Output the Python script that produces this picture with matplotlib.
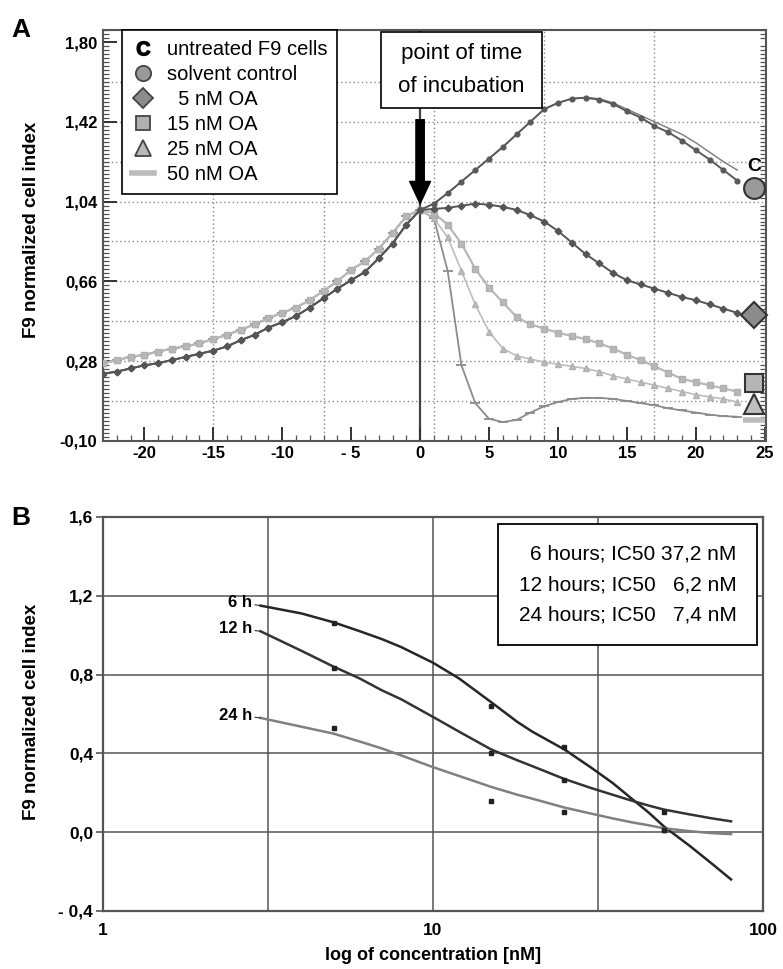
import matplotlib
matplotlib.use("Agg")
import matplotlib.pyplot as plt
from matplotlib.lines import Line2D
import numpy as np

plt.rcParams['font.family'] = ['Liberation Sans', 'DejaVu Sans']
plt.rcParams['mathtext.fontset'] = 'custom'
plt.rcParams['mathtext.rm'] = 'Liberation Sans'
plt.rcParams['mathtext.bf'] = 'Liberation Sans:bold'

# ---------------- panel A data: time (h) vs normalized cell index
hours_pre = np.arange(-23, 0)
hours_post = np.arange(0, 24)

pre_dark = [0.22, 0.23, 0.245, 0.26, 0.27, 0.285, 0.30, 0.315, 0.33, 0.35, 0.38, 0.405,
            0.44, 0.465, 0.495, 0.535, 0.58, 0.625, 0.665, 0.705, 0.77, 0.84, 0.93]
pre_light = [0.27, 0.285, 0.30, 0.31, 0.325, 0.34, 0.35, 0.365, 0.385, 0.405, 0.43, 0.455,
             0.485, 0.51, 0.535, 0.57, 0.615, 0.66, 0.715, 0.755, 0.815, 0.89, 0.97]

solvent_post = [1.00, 1.03, 1.08, 1.135, 1.19, 1.245, 1.30, 1.36, 1.42, 1.48, 1.51, 1.53,
                1.535, 1.525, 1.505, 1.47, 1.44, 1.40, 1.37, 1.33, 1.285, 1.24, 1.19, 1.14]
untreated_post = [1.00, 1.03, 1.08, 1.135, 1.19, 1.245, 1.30, 1.36, 1.42, 1.48, 1.51, 1.53,
                  1.535, 1.53, 1.51, 1.48, 1.45, 1.42, 1.39, 1.36, 1.32, 1.275, 1.23, 1.19]
oa5_post = [1.00, 1.005, 1.01, 1.02, 1.03, 1.025, 1.015, 1.00, 0.975, 0.945, 0.90, 0.845,
            0.79, 0.745, 0.70, 0.665, 0.645, 0.625, 0.605, 0.585, 0.57, 0.55, 0.53, 0.51]
oa15_post = [1.00, 0.985, 0.93, 0.84, 0.72, 0.63, 0.56, 0.49, 0.455, 0.435, 0.415, 0.40,
             0.385, 0.365, 0.34, 0.31, 0.285, 0.255, 0.225, 0.195, 0.18, 0.165, 0.15, 0.135]
oa25_post = [1.00, 0.96, 0.87, 0.71, 0.55, 0.42, 0.34, 0.305, 0.29, 0.275, 0.265, 0.255,
             0.245, 0.23, 0.21, 0.195, 0.18, 0.165, 0.15, 0.135, 0.12, 0.11, 0.10, 0.085]
oa50_post = [1.00, 0.96, 0.71, 0.26, 0.08, 0.005, -0.01, 0.0, 0.035, 0.065, 0.085, 0.10,
             0.105, 0.105, 0.10, 0.09, 0.08, 0.07, 0.055, 0.045, 0.035, 0.025, 0.018, 0.015]

a_labels = ['untreated F9 cells', 'solvent control', '  5 nM OA', '15 nM OA', '25 nM OA', '50 nM OA']
a_yticks = [-0.10, 0.28, 0.66, 1.04, 1.42, 1.80]
a_yticklabels = ['-0,10', '0,28', '0,66', '1,04', '1,42', '1,80']
a_xticks = [-20, -15, -10, -5, 0, 5, 10, 15, 20, 25]
a_xticklabels = ['-20', '-15', '-10', '- 5', '0', '5', '10', '15', '20', '25']

# ---------------- panel B data: concentration (nM) vs cell index
conc_fit = [3, 4, 5, 6, 7, 8, 10, 12, 15, 18, 20, 25, 30, 35, 40, 45, 50, 60, 70, 80]
fit_6h = [1.15, 1.11, 1.065, 1.02, 0.98, 0.94, 0.86, 0.78, 0.66, 0.56, 0.51, 0.42,
          0.33, 0.25, 0.17, 0.10, 0.03, -0.07, -0.16, -0.24]
fit_12h = [1.02, 0.92, 0.84, 0.78, 0.72, 0.675, 0.585, 0.51, 0.42, 0.365, 0.335, 0.27,
           0.225, 0.19, 0.16, 0.135, 0.115, 0.09, 0.07, 0.055]
fit_24h = [0.58, 0.535, 0.50, 0.46, 0.425, 0.39, 0.33, 0.285, 0.23, 0.19, 0.17, 0.125,
           0.095, 0.07, 0.05, 0.035, 0.02, 0.005, -0.005, -0.01]
conc_pts = [5, 15, 25, 50]
pts_6h = [1.06, 0.64, 0.43, 0.01]
pts_12h = [0.835, 0.40, 0.265, 0.10]
pts_24h = [0.53, 0.16, 0.10, 0.01]
b_names = ['6 h', '12 h', '24 h']
b_legend = ['6 hours; IC50 37,2 nM', '12 hours; IC50   6,2 nM', '24 hours; IC50   7,4 nM']
b_yticks = [-0.4, 0.0, 0.4, 0.8, 1.2, 1.6]
b_yticklabels = ['- 0,4', '0,0', '0,4', '0,8', '1,2', '1,6']

narrow = ['Liberation Sans Narrow', 'Liberation Sans']

fig = plt.figure(figsize=(7.83, 9.69), dpi=100)

# ================= panel A
ax = fig.add_axes([0.1315, 0.545, 0.847, 0.424])
ax.set_xlim(-23, 25.1)
ax.set_ylim(-0.10, 1.855)

for gx in [-15, -7, 1, 9, 17]:
    ax.axvline(gx, color='#8a8a8a', lw=1.0, ls=(0, (1, 2)), zorder=0)
for k in range(1, 10):
    ax.axhline(-0.10 + 0.19 * k, color='#8a8a8a', lw=1.0, ls=(0, (1, 2)), zorder=0)

ax.axvline(0, color='#444444', lw=1.6, zorder=1)

t_all = np.concatenate([hours_pre, hours_post])
oa50 = pre_light + oa50_post
oa25 = pre_light + oa25_post
oa15 = pre_light + oa15_post
oa5 = pre_dark + oa5_post
solvent = pre_dark + solvent_post
untreated = pre_dark + untreated_post

ax.plot(t_all, oa50, color='#8c8c8c', lw=1.3, marker='_', ms=7, mew=1.3, zorder=3)
ax.plot(t_all, oa25, color='#bdbdbd', lw=1.2, marker='^', ms=4, mec='#b0b0b0', zorder=3)
ax.plot(t_all, oa15, color='#b8b8b8', lw=1.6, marker='s', ms=4.5, mec='#b0b0b0', zorder=4)
ax.plot(t_all, untreated, color='#7a7a7a', lw=1.0, zorder=5)
ax.plot(t_all, solvent, color='#5a5a5a', lw=1.4, marker='o', ms=3.4, zorder=6)
ax.plot(t_all, oa5, color='#555555', lw=1.4, marker='D', ms=3.4, zorder=6)

# end-of-curve symbols
end_x = hours_post[-1] + 1.2
end_specs = [
    (solvent_post, -0.035, dict(marker='o', ms=15, mfc='#9a9a9a', mec='#333333')),
    (oa5_post, -0.01, dict(marker='D', ms=13, mfc='#8c8c8c', mec='#333333')),
    (oa15_post, 0.04, dict(marker='s', ms=13, mfc='#b5b5b5', mec='#333333')),
    (oa25_post, -0.01, dict(marker='^', ms=15, mfc='#bfbfbf', mec='#333333')),
    (oa50_post, -0.015, dict(marker='_', ms=16, mew=4, color='#bdbdbd')),
]
for series, off, st in end_specs:
    ax.plot([end_x], [series[-1] + off], ls='none', clip_on=False, zorder=8, mew=st.pop('mew', 1.5), **st)
ax.text(end_x, solvent_post[-1] + 0.065, 'C', ha='center', va='center', fontsize=14,
        fontweight='bold', zorder=8)

ax.set_xticks(a_xticks)
ax.set_xticklabels(a_xticklabels, fontsize=12, fontweight='bold')
ax.set_xticks(np.arange(-22, 26, 1), minor=True)
ax.set_yticks(a_yticks)
ax.set_yticklabels(a_yticklabels, fontsize=12, fontweight='bold')
ax.set_yticks(np.arange(-0.10, 1.86, 0.019), minor=True)
ax.tick_params(axis='both', which='major', direction='in', length=10, width=1.4, color='#333333', pad=4)
ax.tick_params(axis='both', which='minor', direction='in', length=4, width=0.9, color='#555555')
ax.tick_params(axis='y', which='minor', right=True)
for sp in ax.spines.values():
    sp.set_color('#555555')
    sp.set_linewidth(1.5)

handles = [
    Line2D([], [], ls='none', marker='$\\mathbf{C}$', color='black', ms=10),
    Line2D([], [], ls='none', marker='o', ms=11, mfc='#999999', mec='#444444', mew=1.3),
    Line2D([], [], ls='none', marker='D', ms=10, mfc='#8c8c8c', mec='#444444', mew=1.3),
    Line2D([], [], ls='none', marker='s', ms=10, mfc='#b0b0b0', mec='#444444', mew=1.3),
    Line2D([], [], ls='none', marker='^', ms=12, mfc='#b8b8b8', mec='#444444', mew=1.3),
    Line2D([], [], color='#bbbbbb', lw=4),
]
leg = ax.legend(handles, a_labels, loc='upper left', bbox_to_anchor=(0.029, 1.0), fontsize=14.5,
                frameon=True, fancybox=False, framealpha=1, edgecolor='black', borderaxespad=0,
                labelspacing=0.3, handlelength=1.1, handletextpad=0.6, borderpad=0.5)
leg.get_frame().set_linewidth(1.2)
leg.set_zorder(10)

ax.text(3.0, 1.793, ' point of time \n of incubation ', ha='center', va='top', fontsize=16,
        linespacing=1.7, zorder=11,
        bbox=dict(boxstyle='square,pad=0.5', fc='white', ec='black', lw=1.2))
ax.annotate('', xy=(0, 1.03), xytext=(0, 1.43),
            arrowprops=dict(width=6, headwidth=15, headlength=16, color='black', shrink=0),
            zorder=12)

fig.text(0.04, 0.763, 'F9 normalized cell index', rotation=90, ha='center', va='center',
         fontsize=13.5, fontweight='bold')
fig.text(0.014, 0.969, 'A', fontsize=19, fontweight='bold', va='center')

# ================= panel B
bx = fig.add_axes([0.1315, 0.0599, 0.843, 0.4066])
bx.set_xscale('log')
bx.set_xlim(1, 100)
bx.set_ylim(-0.4, 1.6)
for gy in [0.0, 0.4, 0.8, 1.2]:
    bx.axhline(gy, color='#555555', lw=1.1, zorder=0)
for gx in [10 ** 0.5, 10, 10 ** 1.5]:
    bx.axvline(gx, color='#555555', lw=1.1, zorder=0)

b_colors = ['#262626', '#333333', '#808080']
for fit, pts, name, col in zip([fit_6h, fit_12h, fit_24h], [pts_6h, pts_12h, pts_24h], b_names, b_colors):
    bx.plot(conc_fit, fit, color=col, lw=1.8, zorder=3)
    bx.plot(conc_pts, pts, ls='none', marker='s', ms=3.5, color='#222222', zorder=4)
    bx.annotate(name, xy=(conc_fit[0], fit[0]), xytext=(-6, 2), textcoords='offset points',
                ha='right', va='center', fontsize=12, fontweight='bold', family=narrow,
                arrowprops=dict(arrowstyle='-', lw=0.8, color='#333333', shrinkA=0, shrinkB=0))

bx.set_xticks([1, 10, 100])
bx.set_xticklabels(['1', '10', '100'], fontsize=12.5, fontweight='bold', family=narrow)
bx.xaxis.set_minor_locator(matplotlib.ticker.NullLocator())
bx.set_yticks(b_yticks)
bx.set_yticklabels(b_yticklabels, fontsize=12.5, fontweight='bold', family=narrow)
bx.tick_params(axis='y', direction='out', length=5, width=1.2, color='#555555', pad=2)
bx.tick_params(axis='x', direction='out', length=0, pad=9)
for sp in bx.spines.values():
    sp.set_color('#555555')
    sp.set_linewidth(1.6)

bx.text(0.96, 0.929, '\n'.join(b_legend), transform=bx.transAxes, ha='right', va='top',
        multialignment='right', fontsize=15, linespacing=1.75, zorder=10,
        bbox=dict(boxstyle='square,pad=1.0', fc='white', ec='black', lw=1.3))

bx.set_xlabel('log of concentration [nM]', fontsize=13, fontweight='bold', labelpad=6)
fig.text(0.04, 0.265, 'F9 normalized cell index', rotation=90, ha='center', va='center',
         fontsize=13.5, fontweight='bold')
fig.text(0.014, 0.465, 'B', fontsize=19, fontweight='bold', va='center')

fig.savefig('out.png', dpi=100)
